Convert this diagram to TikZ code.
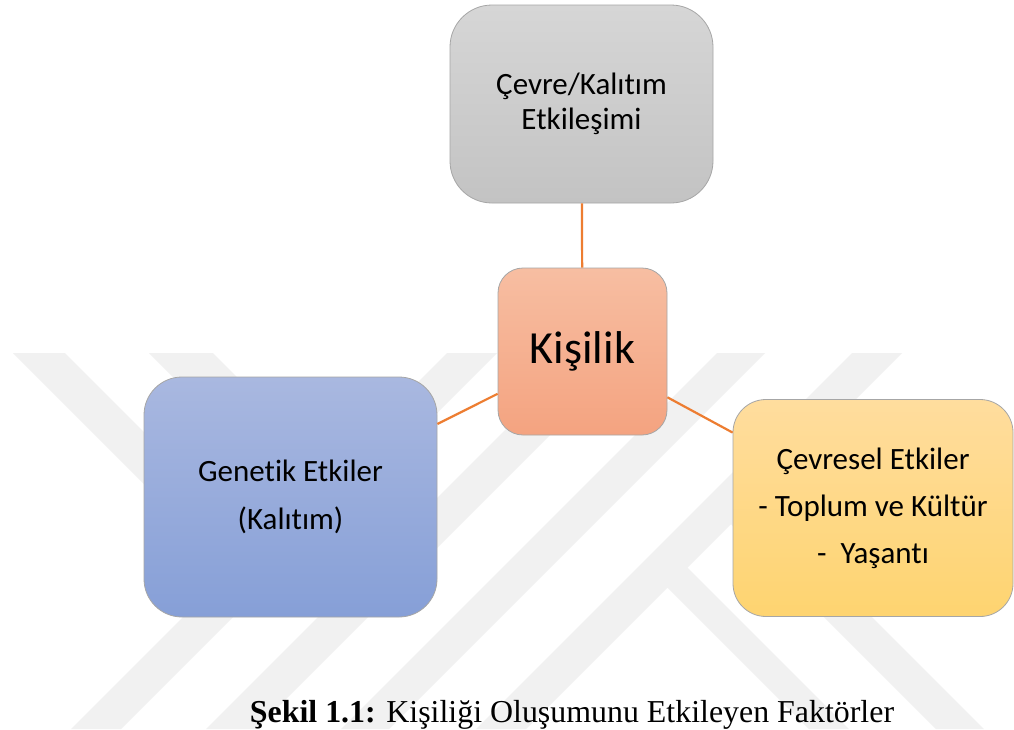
\documentclass[tikz,border=0pt]{standalone}
\usepackage{fontspec}
\setmainfont{Carlito}[RawFeature=-liga]
\newfontfamily\capfont{Liberation Serif}
\definecolor{gtop}{HTML}{D6D6D6}
\definecolor{gbot}{HTML}{C3C3C3}
\definecolor{ktop}{HTML}{F7BEA2}
\definecolor{kbot}{HTML}{F4A380}
\definecolor{btop}{HTML}{A9B8E0}
\definecolor{bbot}{HTML}{869FD7}
\definecolor{ytop}{HTML}{FFDD9E}
\definecolor{ybot}{HTML}{FED470}
\definecolor{linkc}{HTML}{ED7D31}
\definecolor{wmc}{HTML}{F1F1F1}
\tikzset{
  boxbase/.style={draw=black!35, line width=0.8pt, align=center, inner sep=0pt},
  conn/.style={draw=linkc, line width=2.2pt},
  wm/.style={fill=wmc, draw=none}
}
\begin{document}
\begin{tikzpicture}[x=1pt, y={(0pt,-1pt)}]
\useasboundingbox (0,0) rectangle (1014,729);
\clip (0,0) rectangle (1014,729);
\fill[white] (0,0) rectangle (1014,729);
% watermark
\begin{scope}
\clip (0,353) rectangle (1014,729);
\fill[wm] (447,353) -- (497,353) -- (121,729) -- (71,729) -- cycle;
\fill[wm] (582,353) -- (632,353) -- (256,729) -- (206,729) -- cycle;
\fill[wm] (717,353) -- (765,353) -- (389,729) -- (341,729) -- cycle;
\fill[wm] (852,353) -- (902,353) -- (526,729) -- (476,729) -- cycle;
\fill[wm] (13,353) -- (65,353) -- (312,600) -- (260,600) -- cycle;
\fill[wm] (149,353) -- (213,353) -- (425,565) -- (361,565) -- cycle;
\fill[wm] (675,555) -- (849,729) -- (809,729) -- (655,575) -- cycle;
\fill[wm] (742.5,487.5) -- (984,729) -- (936,729) -- (718.5,511.5) -- cycle;
\end{scope}
% boxes
\node[boxbase, top color=gtop, bottom color=gbot, minimum width=263pt, minimum height=198pt,
      rounded corners=42pt, font=\fontsize{31}{35}\selectfont] (env) at (581.5,104) {Çevre/Kalıtım\\Etkileşimi};
\node[boxbase, top color=ktop, bottom color=kbot, minimum width=169pt, minimum height=167pt,
      rounded corners=25pt, font=\fontsize{46}{55}\selectfont] (kis) at (582.5,351.5) {Kişilik};
\node[boxbase, top color=btop, bottom color=bbot, minimum width=293pt, minimum height=240pt,
      rounded corners=38pt, font=\fontsize{31}{48}\selectfont] (gen) at (290.5,497) {Genetik Etkiler\\(Kalıtım)};
\node[boxbase, top color=ytop, bottom color=ybot, minimum width=280pt, minimum height=217pt,
      rounded corners=33pt, font=\fontsize{31}{47}\selectfont] (cev) at (873,508) {Çevresel Etkiler\\- Toplum ve Kültür\\-\ \ Yaşantı};
% connectors
\draw[conn] (env) -- (kis);
\draw[conn] (kis) -- (gen);
\draw[conn] (kis) -- (cev);
% caption
\node[anchor=base, inner sep=0pt, font=\capfont\fontsize{31.9}{38}\selectfont] (cap) at (572,722)
  {\textbf{Şekil 1.1:} Kişiliği Oluşumunu Etkileyen Faktörler};
\end{tikzpicture}
\end{document}
